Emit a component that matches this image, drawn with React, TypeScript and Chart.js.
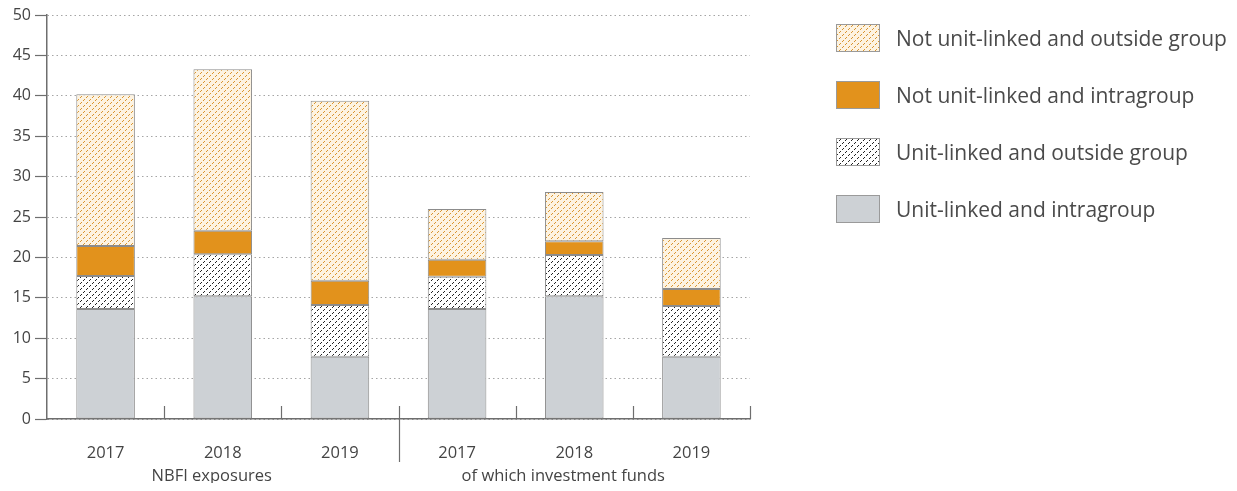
import React, { useEffect, useRef } from "react";
import { Chart, registerables } from "chart.js";
Chart.register(...registerables);

const categories = ["2017", "2018", "2019", "2017", "2018", "2019"];
const groupLabels = ["NBFI exposures", "of which investment funds"];
const groupSizes = [3, 3];
const unitLinkedIntragroup = [13.6, 15.2, 7.7, 13.6, 15.2, 7.7];
const unitLinkedOutside = [4.1, 5.2, 6.4, 4.0, 5.1, 6.3];
const notUnitLinkedIntragroup = [3.7, 2.9, 3.0, 2.1, 1.7, 2.1];
const notUnitLinkedOutside = [18.8, 20.0, 22.3, 6.3, 6.1, 6.3];
const seriesLabels = [
  "Unit-linked and intragroup",
  "Unit-linked and outside group",
  "Not unit-linked and intragroup",
  "Not unit-linked and outside group",
];
const yMin = 0;
const yMax = 50;
const yStep = 5;

const FONT = "'Open Sans', 'Noto Sans', sans-serif";
const BORDER = "#8c8c8c";

function makePattern(bg: string, fg: string): CanvasPattern | string {
  const c = document.createElement("canvas");
  c.width = 6;
  c.height = 6;
  const g = c.getContext("2d");
  if (!g) return bg;
  g.fillStyle = bg;
  g.fillRect(0, 0, 6, 6);
  g.fillStyle = fg;
  const pts = [
    [0, 5],
    [1, 4],
    [3, 2],
    [4, 1],
  ];
  pts.forEach(([x, y]) => g.fillRect(x, y, 1, 1));
  const p = g.createPattern(c, "repeat");
  return p || bg;
}

type Fill = { kind: "solid"; color: string } | { kind: "pattern"; bg: string; fg: string };
const fills: Fill[] = [
  { kind: "solid", color: "#cdd1d5" },
  { kind: "pattern", bg: "#ffffff", fg: "#222222" },
  { kind: "solid", color: "#e2921c" },
  { kind: "pattern", bg: "#fdf3e1", fg: "#d99530" },
];
const resolveFill = (f: Fill) => (f.kind === "solid" ? f.color : makePattern(f.bg, f.fg));

const Swatch: React.FC<{ fill: Fill }> = ({ fill }) => {
  const ref = useRef<HTMLCanvasElement>(null);
  useEffect(() => {
    const c = ref.current;
    if (!c) return;
    const g = c.getContext("2d");
    if (!g) return;
    g.fillStyle = resolveFill(fill) as any;
    g.fillRect(0, 0, 44, 28);
    g.strokeStyle = "#9a9a9a";
    g.lineWidth = 1;
    g.strokeRect(0.5, 0.5, 43, 27);
  }, [fill]);
  return <canvas ref={ref} width={44} height={28} style={{ display: "block" }} />;
};

const decorPlugin = {
  id: "decor",
  afterDraw(chart: any) {
    const { ctx, chartArea, scales } = chart;
    const x = scales.x;
    const n = categories.length;
    const half = (x.getPixelForValue(1) - x.getPixelForValue(0)) / 2;
    ctx.save();
    ctx.strokeStyle = "#6e6e6e";
    ctx.lineWidth = 1.2;
    let idx = 0;
    const boundaries: number[] = [];
    groupSizes.forEach((s) => {
      idx += s;
      boundaries.push(idx);
    });
    for (let i = 1; i <= n; i++) {
      const px = Math.round(x.getPixelForValue(i - 1) + half) + 0.5;
      const isGroup = boundaries.includes(i) && i < n;
      ctx.beginPath();
      ctx.moveTo(px, chartArea.bottom - 13);
      ctx.lineTo(px, isGroup ? chartArea.bottom + 43 : chartArea.bottom);
      ctx.stroke();
    }
    ctx.fillStyle = "#444";
    ctx.font = `16.5px ${FONT}`;
    ctx.textAlign = "center";
    ctx.textBaseline = "middle";
    let start = 0;
    groupSizes.forEach((s, gi) => {
      const a = x.getPixelForValue(start);
      const b = x.getPixelForValue(start + s - 1);
      ctx.fillText(groupLabels[gi], (a + b) / 2 - 11, chartArea.bottom + 57);
      start += s;
    });
    ctx.restore();
  },
};

export default function App() {
  const ref = useRef<HTMLCanvasElement>(null);
  useEffect(() => {
    if (!ref.current) return;
    const data = [unitLinkedIntragroup, unitLinkedOutside, notUnitLinkedIntragroup, notUnitLinkedOutside];
    const chart = new Chart(ref.current, {
      type: "bar",
      data: {
        labels: categories,
        datasets: data.map((d, i) => ({
          label: seriesLabels[i],
          data: d,
          backgroundColor: resolveFill(fills[i]) as any,
          borderColor: BORDER,
          borderWidth: 1,
          borderSkipped: false,
          categoryPercentage: 1,
          barPercentage: 0.5,
        })),
      },
      options: {
        animation: false,
        responsive: true,
        maintainAspectRatio: false,
        layout: { padding: { top: 7, right: 18, left: 0, bottom: 0 } },
        plugins: { legend: { display: false }, tooltip: { enabled: false } },
        scales: {
          x: {
            stacked: true,
            grid: { display: false },
            border: { display: true, color: "#6e6e6e", width: 1.5 },
            ticks: { color: "#444", font: { size: 16.5, family: FONT }, padding: 16, maxRotation: 0 },
            afterFit: (s: any) => {
              s.height = 64;
              s.paddingLeft = 0;
              s.paddingRight = 0;
            },
          },
          y: {
            stacked: true,
            min: yMin,
            max: yMax,
            ticks: { stepSize: yStep, color: "#444", font: { size: 16, family: FONT }, padding: 4 },
            grid: {
              color: "#a5a5a5",
              lineWidth: 1,
              tickLength: 12,
              tickColor: "#6e6e6e",
              tickWidth: 1.2,
              tickBorderDash: [],
            } as any,
            border: { display: true, color: "#6e6e6e", width: 1.5, dash: [1.5, 3] } as any,
            afterFit: (s: any) => {
              s.width = 39;
              s.paddingTop = 0;
              s.paddingBottom = 0;
            },
          },
        },
      },
      plugins: [decorPlugin],
    });
    return () => chart.destroy();
  }, []);

  const legendOrder = [3, 2, 1, 0];
  return (
    <div style={{ position: "relative", width: 1221, height: 475, fontFamily: FONT }}>
      <div style={{ position: "absolute", left: 0, top: 0, width: 760, height: 475 }}>
        <canvas ref={ref} />
      </div>
      <div style={{ position: "absolute", left: 828, top: 16 }}>
        {legendOrder.map((i) => (
          <div key={i} style={{ display: "flex", alignItems: "center", height: 28, marginBottom: 29 }}>
            <Swatch fill={fills[i]} />
            <span style={{ marginLeft: 16, fontSize: 21, color: "#4a4a4a", whiteSpace: "nowrap" }}>
              {seriesLabels[i]}
            </span>
          </div>
        ))}
      </div>
    </div>
  );
}
